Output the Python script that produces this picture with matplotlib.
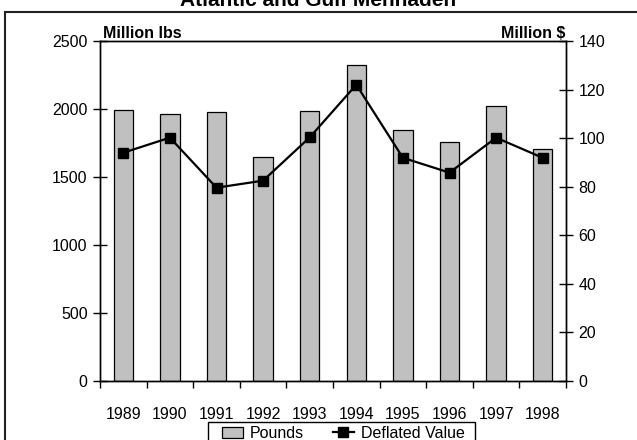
import matplotlib
matplotlib.use("Agg")
import matplotlib.pyplot as plt
from matplotlib.patches import Rectangle
from matplotlib.ticker import FixedLocator

plt.rcParams['font.family'] = ['Liberation Sans', 'DejaVu Sans']

years = ['1989', '1990', '1991', '1992', '1993', '1994', '1995', '1996', '1997', '1998']
pounds = [1990, 1962, 1978, 1645, 1983, 2321, 1848, 1755, 2024, 1704]
deflated = [94.0, 100.2, 79.6, 82.5, 100.3, 122.0, 91.9, 85.8, 100.2, 91.9]

fs = 11.5
fig = plt.figure(figsize=(6.37, 4.40), dpi=100)
ax = fig.add_axes([100 / 637, 1 - 381 / 440, 466 / 637, 340 / 440])
ax2 = ax.twinx()

x = list(range(len(years)))
bars = ax.bar(x, pounds, width=0.42, color='#c0c0c0', edgecolor='black', linewidth=0.9,
              label='Pounds')
line, = ax2.plot(x, deflated, color='black', linewidth=1.6, marker='s', markersize=7,
                 label='Deflated Value')

ax.set_xlim(-0.5, len(years) - 0.5)
ax.set_ylim(0, 2500)
ax.set_yticks([0, 500, 1000, 1500, 2000, 2500])
ax2.set_ylim(0, 140)
ax2.set_yticks(range(0, 141, 20))

ax.set_xticks(x)
ax.set_xticklabels(years, fontsize=fs)
ax.xaxis.set_minor_locator(FixedLocator([i - 0.5 for i in range(len(years) + 1)]))
ax.tick_params(axis='x', which='major', length=0, pad=19)
ax.tick_params(axis='x', which='minor', length=5, width=1, direction='out')
ax.tick_params(axis='y', labelsize=fs, direction='inout', length=10, width=1, pad=4)
ax2.tick_params(axis='y', labelsize=fs, direction='inout', length=10, width=1, pad=4)

for a in (ax, ax2):
    for s in a.spines.values():
        s.set_linewidth(1)
        s.set_color('black')

fig.text(103 / 637, 1 - 38 / 440, 'Million lbs', fontsize=fs, fontweight='bold',
         ha='left', va='baseline')
fig.text(565 / 637, 1 - 38 / 440, 'Million $', fontsize=fs, fontweight='bold',
         ha='right', va='baseline')
fig.text(0.5, 1 - 6 / 440, 'Atlantic and Gulf Menhaden', fontsize=15, fontweight='bold',
         ha='center', va='baseline')

# outer chart border (cut off on the right and bottom)
fig.patches.append(Rectangle((5 / 637, -0.2), 1.2, 1.2 - 12 / 440,
                             transform=fig.transFigure, fill=False,
                             edgecolor='#222222', linewidth=1.5))

# legend box (cut off at the bottom), drawn separately for wider side padding
fig.patches.append(Rectangle((208 / 637, -0.1), 267 / 637, 0.1 + 18 / 440,
                             transform=fig.transFigure, fill=False,
                             edgecolor='black', linewidth=1))
leg = fig.legend([bars, line], ['Pounds', 'Deflated Value'], loc='upper left',
                 bbox_to_anchor=(222 / 637, 1 - 426 / 440), ncol=2, fontsize=fs,
                 frameon=False, handlelength=1.3, handletextpad=0.45,
                 columnspacing=1.8, borderpad=0, borderaxespad=0)

fig.savefig('out.png', dpi=100)
